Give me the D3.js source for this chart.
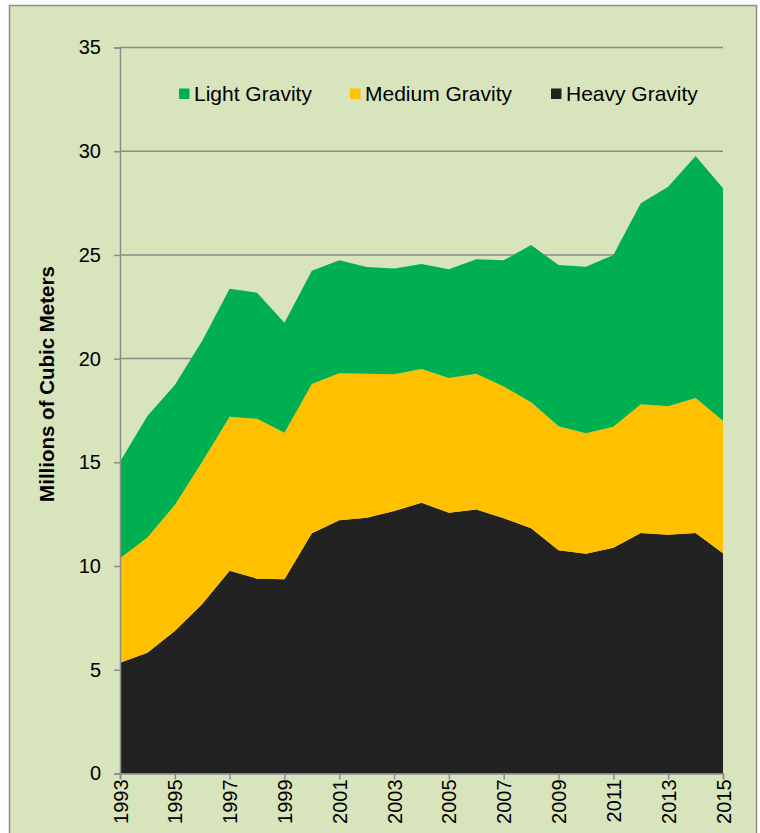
<!DOCTYPE html>
<html>
<head>
  <meta charset="utf-8">
  <title>Oil production by gravity</title>
  <script src="https://cdn.jsdelivr.net/npm/d3@7"></script>
  <style>
    body { margin: 0; background: #fff; }
    svg { display: block; font-family: "Liberation Sans", Arial, sans-serif; }
  </style>
</head>
<body>
<div id="chart"></div>
<script>
// years on the x axis
const years = d3.range(1993, 2016);
const tickYears = [1993, 1995, 1997, 1999, 2001, 2003, 2005, 2007, 2009, 2011, 2013, 2015];
const yTicks = [0, 5, 10, 15, 20, 25, 30, 35];

// millions of cubic meters
const heavy  = [5.34, 5.82, 6.86, 8.17, 9.77, 9.39, 9.36, 11.58, 12.20, 12.33, 12.65, 13.05,
                12.57, 12.73, 12.30, 11.82, 10.76, 10.59, 10.88, 11.59, 11.51, 11.59, 10.61];
const medium = [5.03, 5.56, 6.08, 6.86, 7.43, 7.71, 7.07, 7.20, 7.09, 6.94, 6.59, 6.45,
                6.49, 6.54, 6.35, 6.07, 5.98, 5.81, 5.84, 6.21, 6.19, 6.51, 6.39];
const light  = [4.66, 5.85, 5.79, 5.83, 6.17, 6.08, 5.30, 5.46, 5.45, 5.15, 5.10, 5.06,
                5.25, 5.52, 6.09, 7.59, 7.77, 8.03, 8.28, 9.69, 10.59, 11.67, 11.21];

const seriesNames = ["Heavy Gravity", "Medium Gravity", "Light Gravity"];
const colors = { "Heavy Gravity": "#222222", "Medium Gravity": "#ffc000", "Light Gravity": "#00b050" };

const w = 760, h = 833;
const margin = { left: 120, right: 37, top: 47.5, bottom: 59.6 };

const table = years.map((yr, i) => ({
  year: yr,
  "Heavy Gravity": heavy[i],
  "Medium Gravity": medium[i],
  "Light Gravity": light[i]
}));

const svg = d3.select("#chart").append("svg")
  .attr("width", w)
  .attr("height", h);

// background panel with border
svg.append("rect")
  .attr("x", 9.5).attr("y", 5.5)
  .attr("width", 747).attr("height", 840)
  .attr("fill", "#d8e4bc")
  .attr("stroke", "#8c8c8c")
  .attr("stroke-width", 1.5);

const x = d3.scaleLinear()
  .domain([1993, 2015])
  .range([margin.left, w - margin.right]);

const y = d3.scaleLinear()
  .domain([0, 35])
  .range([h - margin.bottom, margin.top]);

// gridlines
svg.append("g")
  .selectAll("line")
  .data(yTicks.filter(d => d > 0))
  .join("line")
  .attr("x1", margin.left).attr("x2", w - margin.right)
  .attr("y1", d => y(d)).attr("y2", d => y(d))
  .attr("stroke", "#8c8c8c")
  .attr("stroke-width", 1.5);

// stacked areas
const stack = d3.stack().keys(seriesNames);
const layers = stack(table);

const area = d3.area()
  .x(d => x(d.data.year))
  .y0(d => y(d[0]))
  .y1(d => y(d[1]));

svg.append("g")
  .selectAll("path")
  .data(layers)
  .join("path")
  .attr("d", area)
  .attr("fill", d => colors[d.key]);

// y axis
const yAxis = svg.append("g")
  .attr("transform", `translate(${margin.left},0)`)
  .call(d3.axisLeft(y).tickValues(yTicks).tickSize(6).tickPadding(13));
yAxis.selectAll("text")
  .attr("font-size", 20)
  .attr("fill", "#000")
  .attr("font-family", "Liberation Sans, Arial, sans-serif");

// x axis
const xAxis = svg.append("g")
  .attr("transform", `translate(0,${h - margin.bottom})`)
  .call(d3.axisBottom(x).tickValues(tickYears).tickFormat(d3.format("d")).tickSize(6));
xAxis.selectAll("text")
  .attr("font-size", 20)
  .attr("fill", "#000")
  .attr("font-family", "Liberation Sans, Arial, sans-serif")
  .attr("transform", "rotate(-90)")
  .attr("text-anchor", "end")
  .attr("x", -6)
  .attr("y", 0)
  .attr("dy", "0.35em");

svg.selectAll(".domain, .tick line")
  .attr("stroke", "#8c8c8c")
  .attr("stroke-width", 1.5);

// y axis title
svg.append("text")
  .attr("transform", `translate(54,384) rotate(-90)`)
  .attr("text-anchor", "middle")
  .attr("font-size", 20.5)
  .attr("font-weight", "bold")
  .text("Millions of Cubic Meters");

// legend
const legendItems = [
  { name: "Light Gravity", x: 179 },
  { name: "Medium Gravity", x: 350 },
  { name: "Heavy Gravity", x: 551 }
];

const legend = svg.append("g");
legendItems.forEach(item => {
  legend.append("rect")
    .attr("x", item.x).attr("y", 88.5)
    .attr("width", 10.5).attr("height", 10.5)
    .attr("fill", colors[item.name]);
  legend.append("text")
    .attr("x", item.x + 15)
    .attr("y", 100.5)
    .attr("font-size", 21)
    .text(item.name);
});
</script>
</body>
</html>
